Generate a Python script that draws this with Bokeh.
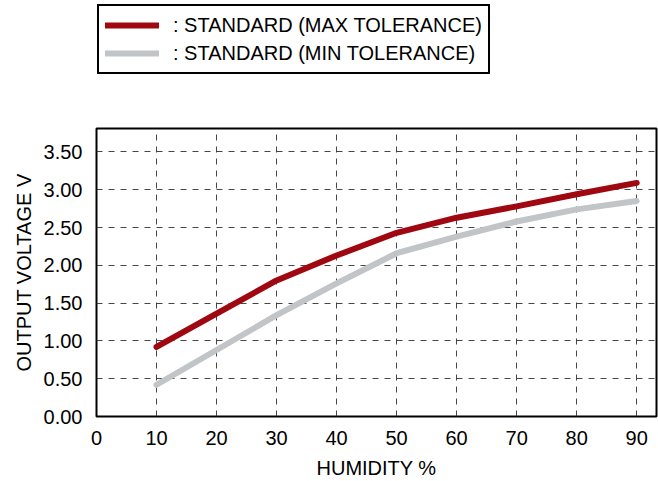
from bokeh.plotting import figure
from bokeh.layouts import column
from bokeh.models import Legend, LegendItem, NumeralTickFormatter, FixedTicker, Range1d
from bokeh.embed import file_html
from bokeh.resources import INLINE

humidity = [10, 20, 30, 40, 50, 60, 70, 80, 90]
max_tol = [0.92, 1.36, 1.80, 2.13, 2.43, 2.63, 2.78, 2.94, 3.09]
min_tol = [0.42, 0.88, 1.34, 1.76, 2.16, 2.38, 2.58, 2.74, 2.85]
x_ticks = [0, 10, 20, 30, 40, 50, 60, 70, 80, 90]
y_ticks = [0, 0.5, 1.0, 1.5, 2.0, 2.5, 3.0, 3.5]
series_labels = [": STANDARD (MAX TOLERANCE)", ": STANDARD (MIN TOLERANCE)"]

FONT = "Liberation Sans"
FS = "20px"
RED = "#A00811"
GREY = "#C1C5C7"

# ---- legend strip (top); its series lie outside its (empty) view range ----
top = figure(width=658, height=120, output_backend="svg", toolbar_location=None,
             x_range=Range1d(-2, -1), y_range=Range1d(-2, -1),
             x_axis_type=None, y_axis_type=None,
             min_border_left=0, min_border_right=0, min_border_top=0, min_border_bottom=0)
top.outline_line_color = None
top.xgrid.visible = False
top.ygrid.visible = False
lr1 = top.line(humidity, max_tol, line_color=RED, line_width=6, line_cap="round")
lr2 = top.line(humidity, min_tol, line_color=GREY, line_width=6, line_cap="round")

legend = Legend(items=[LegendItem(label=series_labels[0], renderers=[lr1]),
                       LegendItem(label=series_labels[1], renderers=[lr2])],
                location=(1, 46))
legend.label_text_font = FONT
legend.label_text_font_size = FS
legend.label_text_color = "black"
legend.border_line_color = "black"
legend.border_line_width = 2
legend.border_line_alpha = 1
legend.glyph_width = 54
legend.glyph_height = 26
legend.label_height = 26
legend.label_standoff = 14
legend.spacing = 2
legend.padding = 6
legend.margin = 0
legend.background_fill_alpha = 1
top.add_layout(legend, "center")

# ---- main plot ----
p = figure(width=658, height=361, output_backend="svg", toolbar_location=None,
           x_range=Range1d(0, 93.3), y_range=Range1d(0, 3.81),
           min_border_left=96, min_border_right=2, min_border_top=8, min_border_bottom=62)

p.outline_line_color = "black"
p.outline_line_width = 2
p.outline_line_alpha = 1

p.line(humidity, max_tol, line_color=RED, line_width=6, line_cap="round", line_join="round")
p.line(humidity, min_tol, line_color=GREY, line_width=6, line_cap="round", line_join="round")

for ax in (p.xaxis[0], p.yaxis[0]):
    ax.axis_line_color = None
    ax.major_tick_line_color = None
    ax.minor_tick_line_color = None
    ax.major_label_text_font = FONT
    ax.major_label_text_font_size = FS
    ax.major_label_text_color = "black"
    ax.axis_label_text_font = FONT
    ax.axis_label_text_font_size = FS
    ax.axis_label_text_font_style = "normal"
    ax.axis_label_text_color = "black"
    ax.major_label_standoff = 8

p.xaxis.ticker = FixedTicker(ticks=x_ticks)
p.yaxis.ticker = FixedTicker(ticks=y_ticks)
p.yaxis.formatter = NumeralTickFormatter(format="0.00")
p.xaxis.axis_label = "HUMIDITY %"
p.yaxis.axis_label = "OUTPUT VOLTAGE V"
p.xaxis.axis_label_standoff = 9
p.yaxis.axis_label_standoff = 6

for g in (p.xgrid[0], p.ygrid[0]):
    g.grid_line_color = "#333333"
    g.grid_line_dash = "6 6"
    g.grid_line_width = 1
    g.grid_line_alpha = 0.9

layout = column(top, p, spacing=0)
open("out.html", "w").write(file_html(layout, INLINE))
